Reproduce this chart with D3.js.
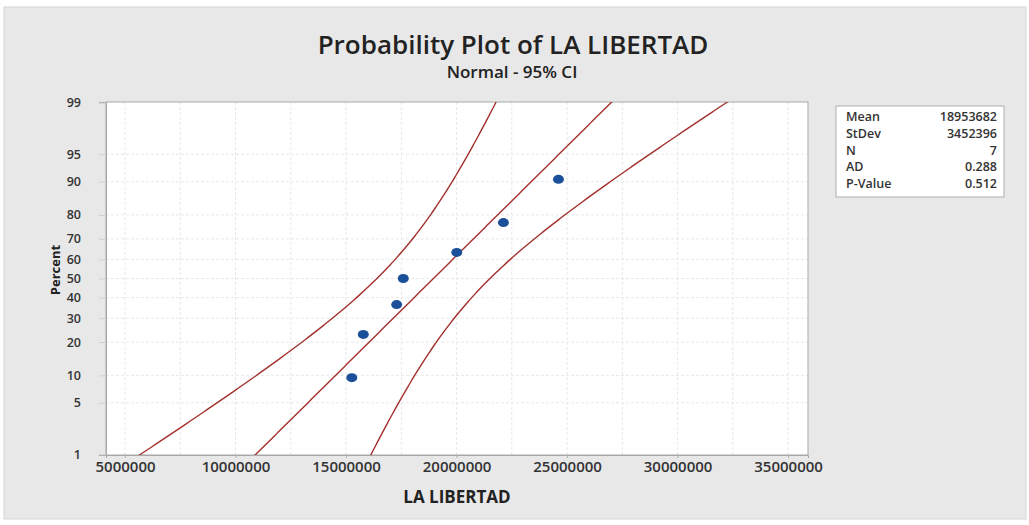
<!DOCTYPE html>
<html>
<head>
<meta charset="utf-8">
<script src="https://cdn.jsdelivr.net/npm/d3@7"></script>
<style>
  body { margin: 0; background: #fff; }
  text { font-family: "Open Sans", "Noto Sans", sans-serif; }
</style>
</head>
<body>
<div id="chart"></div>
<script>
width = 1029
height = 525

values = [15260000, 15780000, 17290000, 17590000, 20010000, 22120000, 24610000]

// summary table shown at right
statLabels = ["Mean", "StDev", "N", "AD", "P-Value"]
statValues = ["18953682", "3452396", "7", "0.288", "0.512"]
mean = 18953682
stdev = 3452396

xTicks = [5000000, 10000000, 15000000, 20000000, 25000000, 30000000, 35000000]
yTicks = [1, 5, 10, 20, 30, 40, 50, 60, 70, 80, 90, 95, 99]

plot = {left: 106, right: 808, top: 102, bottom: 455}

// inverse normal cdf (Acklam)
function qnorm(p) {
  const a = [-3.969683028665376e+01, 2.209460984245205e+02, -2.759285104469687e+02, 1.383577518672690e+02, -3.066479806614716e+01, 2.506628277459239e+00]
  const b = [-5.447609879822406e+01, 1.615858368580409e+02, -1.556989798598866e+02, 6.680131188771972e+01, -1.328068155288572e+01]
  const c = [-7.784894002430293e-03, -3.223964580411365e-01, -2.400758277161838e+00, -2.549732539343734e+00, 4.374664141464968e+00, 2.938163982698783e+00]
  const d = [7.784695709041462e-03, 3.224671290700398e-01, 2.445134137142996e+00, 3.754408661907416e+00]
  const pl = 0.02425
  let q, r
  if (p < pl) {
    q = Math.sqrt(-2 * Math.log(p))
    return (((((c[0]*q+c[1])*q+c[2])*q+c[3])*q+c[4])*q+c[5]) / ((((d[0]*q+d[1])*q+d[2])*q+d[3])*q+1)
  }
  if (p > 1 - pl) {
    q = Math.sqrt(-2 * Math.log(1 - p))
    return -(((((c[0]*q+c[1])*q+c[2])*q+c[3])*q+c[4])*q+c[5]) / ((((d[0]*q+d[1])*q+d[2])*q+d[3])*q+1)
  }
  q = p - 0.5
  r = q * q
  return (((((a[0]*r+a[1])*r+a[2])*r+a[3])*r+a[4])*r+a[5])*q / (((((b[0]*r+b[1])*r+b[2])*r+b[3])*r+b[4])*r+1)
}

const n = values.length

x = d3.scaleLinear()
    .domain([4140000, 35900000])
    .range([plot.left, plot.right])

// y is linear in the normal quantile
y = d3.scaleLinear()
    .domain([qnorm(0.01) - 0.01, qnorm(0.99) + 0.01])
    .range([plot.bottom, plot.top])

const svg = d3.select("#chart").append("svg")
    .attr("width", width)
    .attr("height", height)

// grey panel
svg.append("rect")
    .attr("x", 4).attr("y", 7)
    .attr("width", 1022).attr("height", 512)
    .attr("fill", "#e8e8e8")
    .attr("stroke", "#d6d6d6")

// plot area
svg.append("rect")
    .attr("x", plot.left).attr("y", plot.top)
    .attr("width", plot.right - plot.left).attr("height", plot.bottom - plot.top)
    .attr("fill", "#fff")

svg.append("defs").append("clipPath").attr("id", "clip")
  .append("rect")
    .attr("x", plot.left).attr("y", plot.top)
    .attr("width", plot.right - plot.left).attr("height", plot.bottom - plot.top)

// gridlines
const gridX = d3.range(5000000, 35000001, 2500000)
svg.append("g").selectAll("line")
    .data(gridX)
    .join("line")
    .attr("x1", d => x(d)).attr("x2", d => x(d))
    .attr("y1", plot.top).attr("y2", plot.bottom)
    .attr("stroke", "#e8e8e8")
    .attr("stroke-dasharray", "3,2")

svg.append("g").selectAll("line")
    .data(yTicks.slice(1, -1))
    .join("line")
    .attr("x1", plot.left).attr("x2", plot.right)
    .attr("y1", d => y(qnorm(d / 100))).attr("y2", d => y(qnorm(d / 100)))
    .attr("stroke", "#e8e8e8")
    .attr("stroke-dasharray", "3,2")

// frame
svg.append("rect")
    .attr("x", plot.left).attr("y", plot.top)
    .attr("width", plot.right - plot.left).attr("height", plot.bottom - plot.top)
    .attr("fill", "none")
    .attr("stroke", "#a8a8a8")

// axes
const xAxis = svg.append("g")
    .attr("transform", `translate(0,${plot.bottom})`)
    .call(d3.axisBottom(x).tickValues(xTicks).tickFormat(d3.format("d")).tickSize(3).tickPadding(3))
xAxis.select(".domain").attr("stroke", "#a8a8a8")
xAxis.selectAll(".tick line").attr("stroke", "#b0b0b0")
xAxis.selectAll("text")
    .attr("font-size", 15)
    .attr("font-weight", 600)
    .attr("fill", "#333")
    .attr("font-family", "'Open Sans', sans-serif")

const yAxis = svg.append("g")
    .attr("transform", `translate(${plot.left},0)`)
    .call(d3.axisLeft(y).tickValues(yTicks.map(p => qnorm(p / 100)))
        .tickFormat((d, i) => yTicks[i]).tickSize(7).tickPadding(18))
yAxis.select(".domain").attr("stroke", "#a8a8a8")
yAxis.selectAll(".tick line").attr("stroke", "#d0d0d0")
yAxis.selectAll("text")
    .attr("font-size", 12.5)
    .attr("font-weight", 600)
    .attr("fill", "#333")
    .attr("font-family", "'Open Sans', sans-serif")

// fitted line and 95% CI
const zs = d3.range(-2.6, 2.61, 0.02)
const se = z => stdev * Math.sqrt(1 / n + z * z / (2 * (n - 1)))
const fits = [
  z => mean + z * stdev,
  z => mean + z * stdev - 1.96 * se(z),
  z => mean + z * stdev + 1.96 * se(z)
]
const line = d3.line()

svg.append("g").attr("clip-path", "url(#clip)")
  .selectAll("path")
  .data(fits)
  .join("path")
    .attr("d", f => line(zs.map(z => [x(f(z)), y(z)])))
    .attr("fill", "none")
    .attr("stroke", "#a3302c")
    .attr("stroke-width", 1.4)

// points at median ranks
svg.append("g").selectAll("ellipse")
    .data(values)
    .join("ellipse")
    .attr("cx", d => x(d))
    .attr("cy", (d, i) => y(qnorm((i + 1 - 0.3) / (n + 0.4))))
    .attr("rx", 5.5)
    .attr("ry", 4.5)
    .attr("fill", "#1c4f99")

// titles
svg.append("text")
    .attr("x", 513).attr("y", 54)
    .attr("text-anchor", "middle")
    .attr("font-size", 26)
    .attr("font-weight", 600)
    .attr("fill", "#222")
    .text("Probability Plot of LA LIBERTAD")

svg.append("text")
    .attr("x", 512).attr("y", 78)
    .attr("text-anchor", "middle")
    .attr("font-size", 17)
    .attr("font-weight", 600)
    .attr("fill", "#222")
    .text("Normal - 95% CI")

svg.append("text")
    .attr("x", 457).attr("y", 503)
    .attr("text-anchor", "middle")
    .attr("font-size", 17)
    .attr("font-weight", 700)
    .attr("fill", "#222")
    .text("LA LIBERTAD")

svg.append("text")
    .attr("transform", "translate(60,270) rotate(-90)")
    .attr("text-anchor", "middle")
    .attr("font-size", 13)
    .attr("font-weight", 700)
    .attr("fill", "#222")
    .text("Percent")

// stats box
const box = svg.append("g").attr("transform", "translate(836,106)")
box.append("rect")
    .attr("width", 168).attr("height", 91)
    .attr("fill", "#fff")
    .attr("stroke", "#b0b0b0")

const rows = box.selectAll("g.row")
    .data(statLabels)
    .join("g")
    .attr("class", "row")
    .attr("transform", (d, i) => `translate(0,${15 + i * 16.8})`)

rows.append("text")
    .attr("x", 10)
    .attr("font-size", 12.5)
    .attr("font-weight", 600)
    .attr("fill", "#333")
    .text(d => d)

rows.append("text")
    .attr("x", 161)
    .attr("text-anchor", "end")
    .attr("font-size", 12.5)
    .attr("font-weight", 600)
    .attr("fill", "#333")
    .text((d, i) => statValues[i])
</script>
</body>
</html>
